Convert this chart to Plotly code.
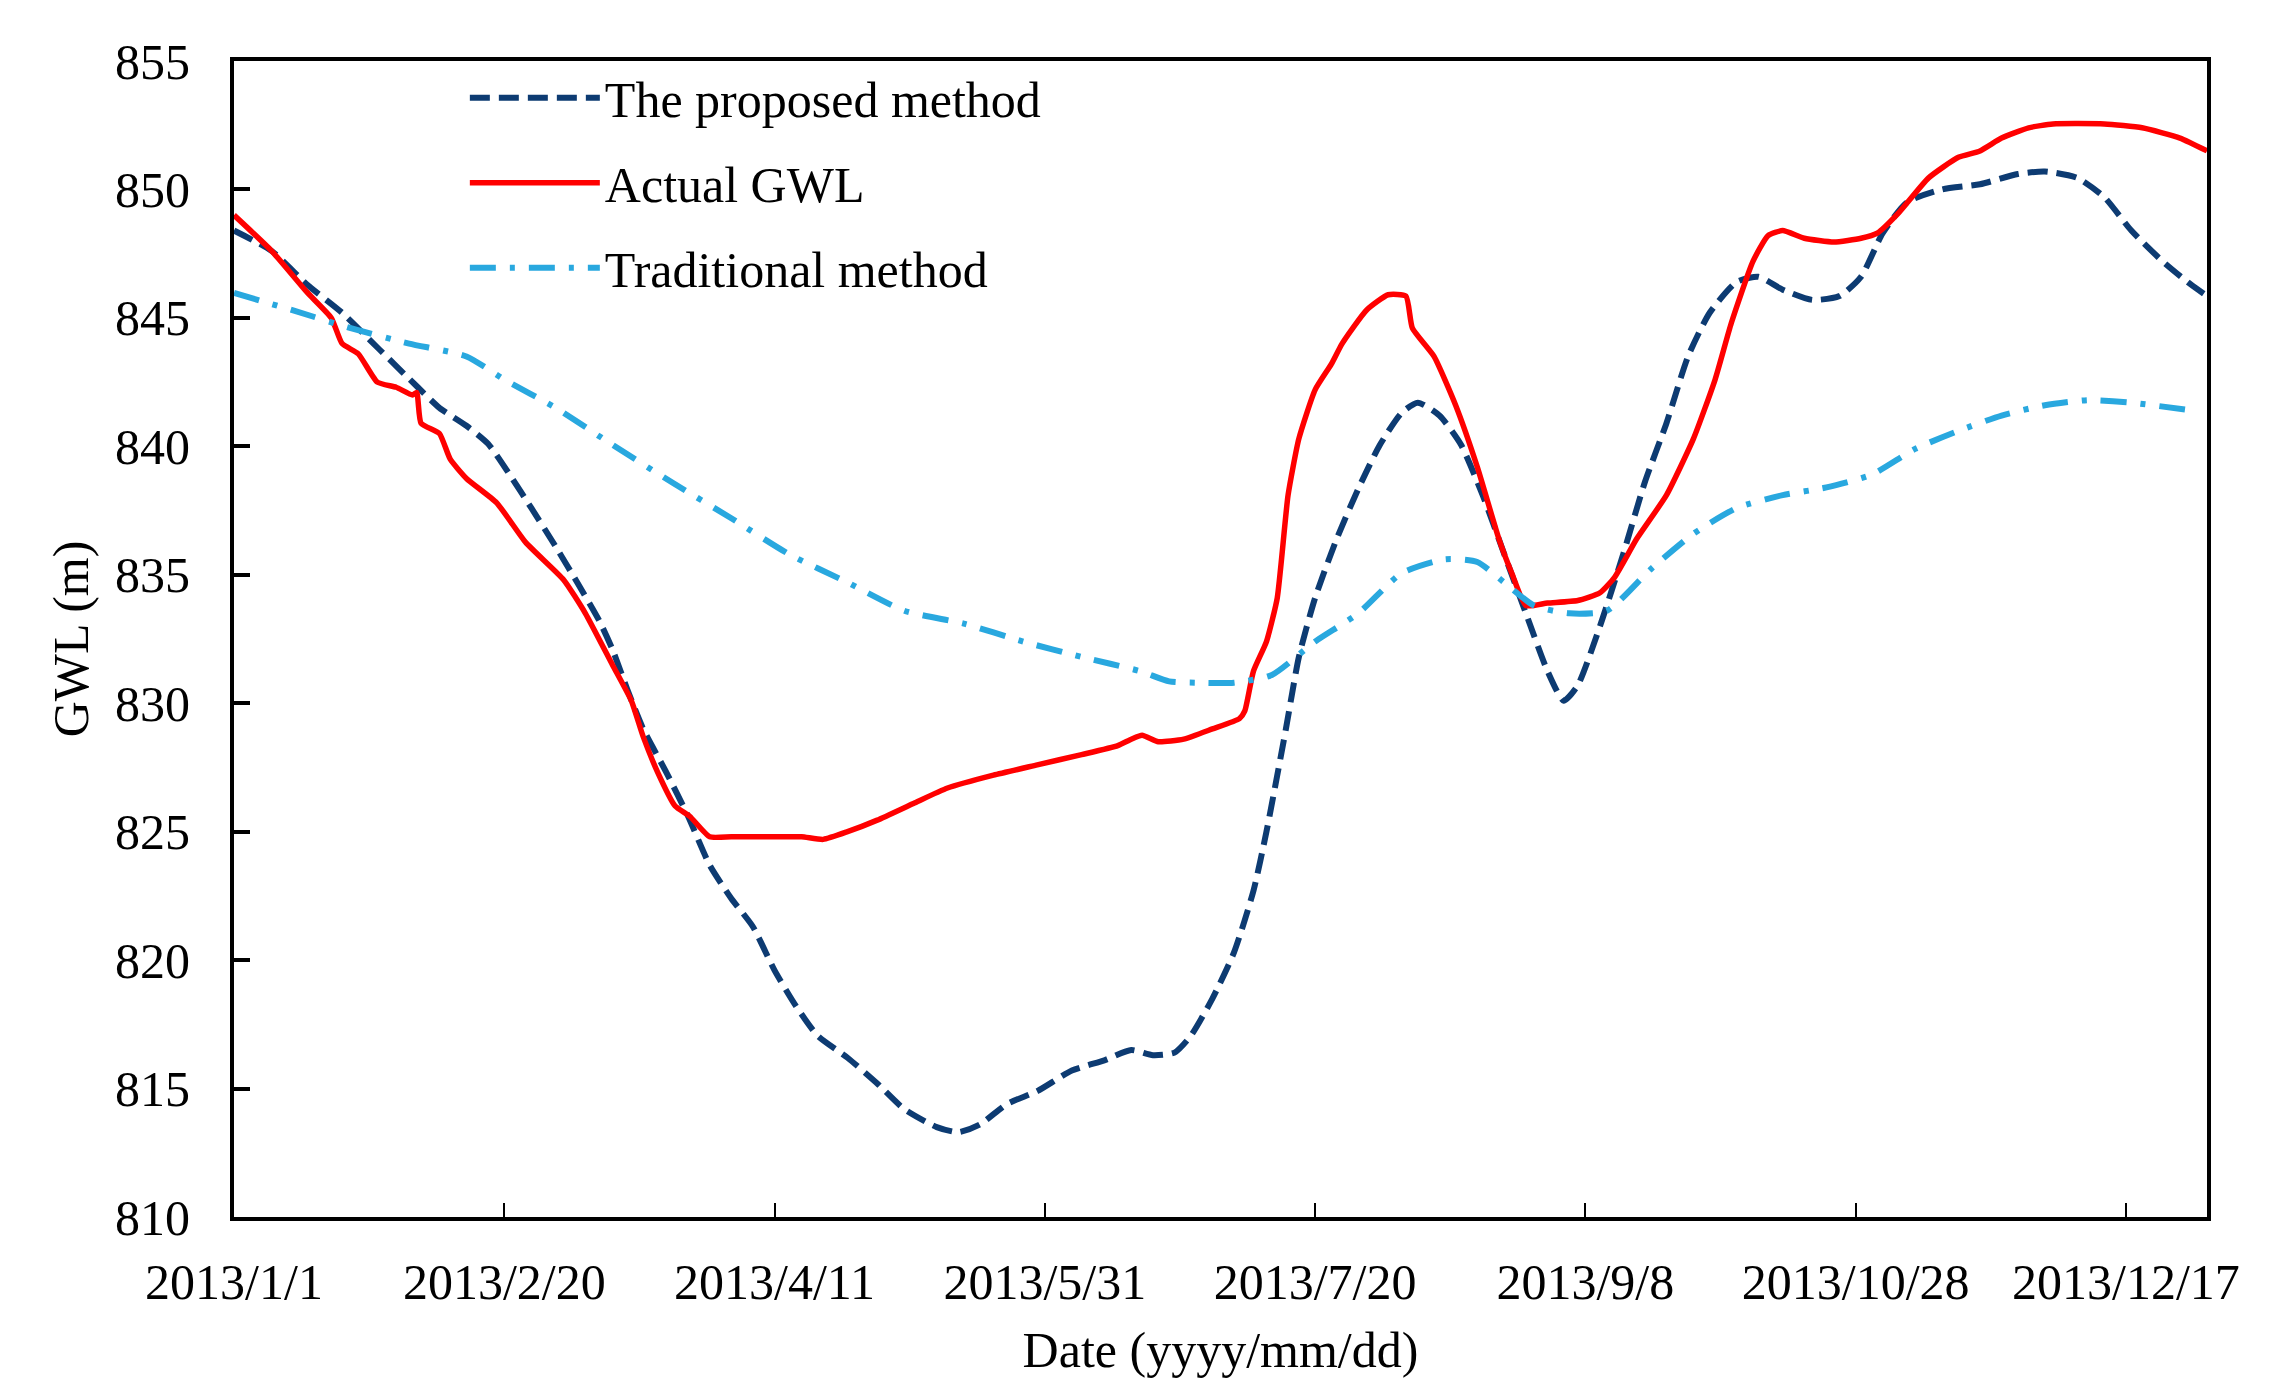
import datetime as dt
import plotly.graph_objects as go

# ---- data (day offset from 2013/1/1, GWL in m) ----
actual_days = [0, 7, 13.5, 18, 20, 23, 26.5, 30, 33, 33.8, 34.6, 38, 40, 43, 48.6, 54, 61, 65, 70, 73.5,
               75.7, 78.4, 81.6, 84.3, 88, 92, 100, 105, 109, 113.5, 119, 125.7, 132, 140.5, 148.6, 156.8,
               163.5, 166, 168, 171, 175.7, 181, 186, 187, 188.6, 191, 193, 195, 197, 200, 203, 205, 209.5,
               213.5, 216.8, 218, 222, 226, 230, 234, 236.5, 239, 243, 248.6, 252.7, 255.4, 259.5, 265, 270,
               274, 277, 281, 283.8, 286.5, 290.5, 296, 301, 304, 308, 313.5, 319, 323, 327, 332, 336.5, 346,
               353, 360, 365]
actual_gwl = [849.0, 847.6, 846.0, 845.0, 844.0, 843.6, 842.5, 842.3, 842.0, 842.1, 840.9, 840.5, 839.5,
              838.75, 837.8, 836.25, 834.8, 833.5, 831.5, 830.1, 828.7, 827.3, 826.0, 825.6, 824.8, 824.8,
              824.8, 824.8, 824.7, 825.0, 825.45, 826.1, 826.7, 827.2, 827.6, 828.0, 828.35, 828.6, 828.75,
              828.5, 828.6, 829.0, 829.4, 829.7, 831.25, 832.4, 834.1, 838.1, 840.3, 842.2, 843.2, 844.0,
              845.3, 845.9, 845.85, 844.6, 843.5, 841.6, 839.2, 836.4, 835.0, 833.8, 833.9, 834.0, 834.3,
              834.9, 836.4, 838.1, 840.3, 842.6, 844.8, 847.2, 848.2, 848.4, 848.1, 847.95, 848.1, 848.3,
              849.1, 850.45, 851.25, 851.5, 852.0, 852.4, 852.55, 852.55, 852.4, 852.0, 851.5]

proposed_days = [0, 7, 13.5, 20, 27, 34, 38, 43, 47, 51, 55, 59.5, 63.5, 67.6, 70, 73, 75.7, 80, 84, 88,
                 92, 96, 100, 104, 108, 113.5, 119, 124, 130, 134, 138, 143, 148.6, 155, 161, 166, 170, 174,
                 177, 181, 185, 188.6, 191, 194.6, 197, 200, 204, 208, 212, 216, 219, 223, 227, 231, 235,
                 239, 243, 246, 248.6, 252.7, 257, 261, 265, 269, 273, 278, 282, 286.5, 292, 297, 301, 305,
                 309.5, 316, 323, 330, 335, 341, 346, 351, 356.8, 362, 365]
proposed_gwl = [848.4, 847.6, 846.3, 845.2, 843.75, 842.3, 841.5, 840.8, 840.1, 838.9, 837.6, 836.1, 834.7,
                833.2, 832.1, 830.4, 829.0, 827.3, 825.6, 823.7, 822.4, 821.3, 819.6, 818.2, 817.05, 816.2,
                815.2, 814.2, 813.5, 813.3, 813.6, 814.4, 814.9, 815.7, 816.1, 816.5, 816.3, 816.4, 817.05,
                818.5, 820.3, 822.7, 825.0, 829.0, 831.8, 834.1, 836.4, 838.35, 840.06, 841.3, 841.7, 841.2,
                840.06, 838.1, 835.8, 833.5, 831.25, 830.1, 830.7, 833.0, 835.8, 838.6, 840.9, 843.5, 845.2,
                846.4, 846.6, 846.1, 845.7, 845.85, 846.6, 848.3, 849.5, 850.0, 850.2, 850.6, 850.7, 850.45,
                849.7, 848.4, 847.2, 846.3, 845.85]

traditional_days = [0, 10.8, 21.6, 32.4, 43, 50, 59.5, 70, 81, 92, 102.7, 113.5, 124, 135, 146, 156.8,
                    167.6, 173, 178, 185, 192, 200, 208, 216, 224, 230, 235, 240.5, 247, 254, 262, 270, 278,
                    286.5, 294.6, 303, 311, 319, 327, 335, 343, 351, 362]
traditional_gwl = [845.97, 845.3, 844.6, 844.0, 843.5, 842.6, 841.5, 840.06, 838.6, 837.2, 835.8, 834.7,
                   833.6, 833.1, 832.4, 831.8, 831.25, 830.85, 830.8, 830.8, 831.1, 832.4, 833.5, 835.06,
                   835.6, 835.5, 834.7, 833.8, 833.5, 833.6, 835.2, 836.6, 837.6, 838.1, 838.4, 838.9, 839.9,
                   840.6, 841.2, 841.6, 841.8, 841.7, 841.4]

tick_days = [0, 50, 100, 150, 200, 250, 300, 350]
tick_labels = ["2013/1/1", "2013/2/20", "2013/4/11", "2013/5/31", "2013/7/20", "2013/9/8",
               "2013/10/28", "2013/12/17"]
y_ticks = [810, 815, 820, 825, 830, 835, 840, 845, 850, 855]


def to_dates(days):
    return [dt.datetime(2013, 1, 1) + dt.timedelta(days=d) for d in days]


FONT = "Liberation Serif, Times New Roman, serif"

fig = go.Figure()
fig.add_trace(go.Scatter(
    x=to_dates(proposed_days), y=proposed_gwl, mode="lines", name="The proposed method",
    legendgroup="a", line=dict(color="#0D3B72", width=6, dash="20px,9px", shape="spline", smoothing=0.6)))
fig.add_trace(go.Scatter(
    x=to_dates(actual_days), y=actual_gwl, mode="lines", name="Actual GWL",
    legendgroup="b", line=dict(color="#FF0000", width=5.5, shape="spline", smoothing=0.5)))
fig.add_trace(go.Scatter(
    x=to_dates(traditional_days), y=traditional_gwl, mode="lines", name="Traditional method",
    legendgroup="c", line=dict(color="#29A8DF", width=6, dash="26px,14px,5px,14px", shape="spline",
                                smoothing=0.6)))

fig.update_layout(
    width=2277, height=1393,
    margin=dict(l=234, r=70, t=61, b=176),
    paper_bgcolor="white", plot_bgcolor="white",
    font=dict(family=FONT, size=50, color="black"),
    showlegend=True,
    legend=dict(x=0.117, y=1.002, xanchor="left", yanchor="top", bgcolor="rgba(0,0,0,0)",
                font=dict(family=FONT, size=50, color="black"), tracegroupgap=17, itemwidth=130),
    xaxis=dict(
        type="date", range=[dt.datetime(2013, 1, 1), dt.datetime(2014, 1, 1)],
        tickvals=to_dates(tick_days), ticktext=tick_labels,
        ticks="inside", ticklen=14, tickwidth=2, tickcolor="black",
        showline=True, linewidth=4, linecolor="black", mirror=True, showgrid=False, zeroline=False,
        tickfont=dict(family=FONT, size=50), ticklabelstandoff=18,
        title=dict(text="Date (yyyy/mm/dd)", font=dict(family=FONT, size=50), standoff=24),
    ),
    yaxis=dict(
        range=[810, 855], tickvals=y_ticks,
        ticks="inside", ticklen=16, tickwidth=4, tickcolor="black",
        showline=True, linewidth=4, linecolor="black", mirror=True, showgrid=False, zeroline=False,
        tickfont=dict(family=FONT, size=50), ticklabelstandoff=30,
        title=dict(text="GWL (m)", font=dict(family=FONT, size=50), standoff=12),
    ),
)

fig.write_html("out.html", config={"displayModeBar": False},
               post_script="document.body.style.margin='0';")
